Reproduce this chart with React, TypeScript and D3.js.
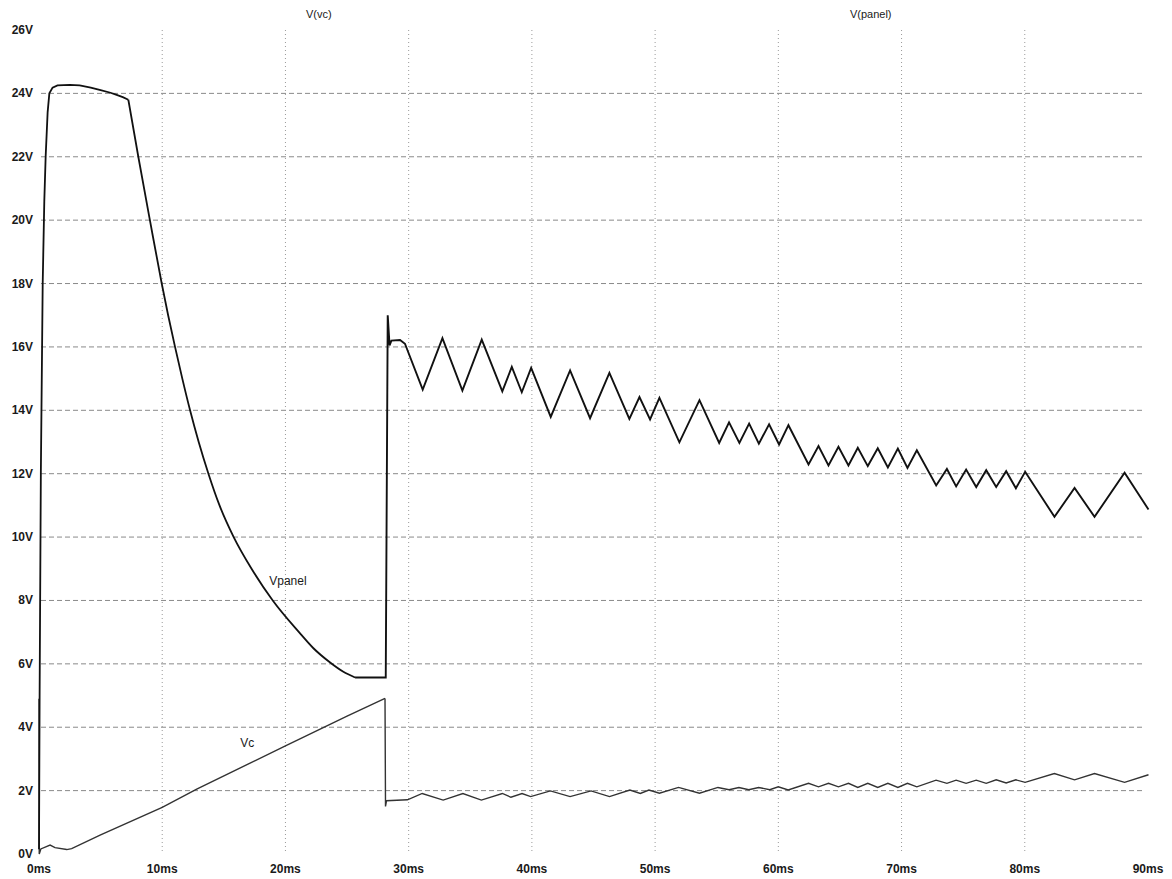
import React from "react";
import * as d3 from "d3";

const WIDTH = 1172;
const HEIGHT = 879;

// Y ticks (volts) and X ticks (ms)
const yTickValues = [0, 2, 4, 6, 8, 10, 12, 14, 16, 18, 20, 22, 24, 26];
const yGridValues = [2, 4, 6, 8, 10, 12, 14, 16, 18, 20, 22, 24];
const xTickValues = [0, 10, 20, 30, 40, 50, 60, 70, 80, 90];
const xGridValues = [10, 20, 30, 40, 50, 60, 70, 80];

// V(panel): start-up rise and plateau [ms, V]
const vpanelRise: [number, number][] = [
  [0, 0.15], [0.05, 5], [0.15, 12], [0.3, 18], [0.43, 20.6], [0.54, 22],
  [0.7, 23.4], [0.84, 24.0], [1.1, 24.18], [1.5, 24.25], [2.5, 24.27],
  [3.3, 24.25], [4.2, 24.18], [5, 24.1], [5.8, 24.02], [6.3, 23.95],
  [6.8, 23.88], [7.25, 23.8],
];
// V(panel): decay while capacitor charges
const vpanelDecay: [number, number][] = [
  [7.25, 23.8], [8.06, 22], [9.0, 20], [9.96, 18], [10.48, 17], [11.04, 16],
  [11.63, 15], [12.26, 14], [12.96, 13], [13.75, 12], [14.65, 11], [15.8, 10],
  [17.25, 9], [18.97, 8], [21.1, 7], [22.25, 6.5], [23.6, 6.05], [24.7, 5.75],
  [25.65, 5.57],
];
// V(panel): switching regime
const vpanelSwitch: [number, number][] = [
  [25.65, 5.57], [28.14, 5.57], [28.3, 17.0], [28.45, 16.05], [28.6, 16.2],
  [29.3, 16.22], [29.7, 16.1],
  [31.14, 14.65], [32.74, 16.28], [34.36, 14.62], [35.93, 16.23], [37.6, 14.6],
  [38.37, 15.37], [39.18, 14.57], [39.94, 15.34], [41.53, 13.79], [43.1, 15.26],
  [44.72, 13.75], [46.29, 15.18], [47.91, 13.73], [48.73, 14.42], [49.59, 13.71],
  [50.35, 14.39], [51.97, 12.99], [53.6, 14.32], [55.2, 12.97], [56.0, 13.62],
  [56.84, 12.97], [57.63, 13.58], [58.42, 12.95], [59.25, 13.56], [60.06, 12.92],
  [60.82, 13.53], [62.45, 12.29], [63.26, 12.87], [64.07, 12.26], [64.88, 12.85],
  [65.69, 12.26], [66.45, 12.82], [67.26, 12.24], [68.07, 12.8], [68.89, 12.2],
  [69.7, 12.79], [70.48, 12.18], [71.24, 12.74], [72.81, 11.63], [73.68, 12.15],
  [74.43, 11.6], [75.24, 12.13], [76.06, 11.58], [76.87, 12.11], [77.68, 11.58],
  [78.49, 12.08], [79.28, 11.54], [80.03, 12.06], [82.41, 10.64], [84.04, 11.55],
  [85.66, 10.64], [88.1, 12.03], [90.04, 10.87],
];

// V(vc): ramp
const vcRamp: [number, number][] = [
  [0, 4.9], [0.02, 0.0], [0.15, 0.16], [0.9, 0.28], [1.3, 0.2], [2.25, 0.14],
  [2.65, 0.17], [5, 0.6], [10, 1.47], [12.8, 2.05], [20, 3.41], [25, 4.35],
  [28.08, 4.91],
];
// V(vc): switching regime
const vcSwitch: [number, number][] = [
  [28.08, 4.91], [28.12, 1.5], [28.2, 1.68], [29.9, 1.71],
  [31.1, 1.91], [32.8, 1.70], [34.4, 1.91], [35.9, 1.70], [37.6, 1.91],
  [38.3, 1.79], [39.2, 1.91], [39.9, 1.81], [41.5, 1.99], [43.1, 1.81],
  [44.8, 1.99], [46.3, 1.81], [47.95, 2.02], [48.8, 1.91], [49.5, 2.02],
  [50.35, 1.92], [51.9, 2.10], [53.6, 1.92], [55.1, 2.10], [56.0, 2.03],
  [56.8, 2.10], [57.6, 2.03], [58.4, 2.10], [59.3, 2.03], [60.0, 2.12],
  [60.8, 2.02], [62.45, 2.23], [63.26, 2.12], [64.07, 2.23], [64.88, 2.12],
  [65.69, 2.23], [66.45, 2.10], [67.26, 2.23], [68.07, 2.10], [68.89, 2.23],
  [69.7, 2.10], [70.48, 2.23], [71.24, 2.12], [72.8, 2.33], [73.68, 2.23],
  [74.43, 2.33], [75.24, 2.23], [76.06, 2.33], [76.87, 2.23], [77.68, 2.34],
  [78.49, 2.24], [79.28, 2.34], [80.03, 2.26], [82.4, 2.54], [84.04, 2.34],
  [85.66, 2.54], [88.1, 2.26], [90.04, 2.50],
];

const titles = [
  { text: "V(vc)", t: 22.7 },
  { text: "V(panel)", t: 67.5 },
];
const curveLabels = [
  { text: "Vpanel", t: 20.2, v: 8.6 },
  { text: "Vc", t: 16.9, v: 3.5 },
];

export default function App() {
  const x = d3.scaleLinear().domain([0, 90]).range([39, 1148]);
  const y = d3.scaleLinear().domain([0, 26]).range([854, 30]);

  const linear = d3
    .line<[number, number]>()
    .x((d) => x(d[0]))
    .y((d) => y(d[1]))
    .curve(d3.curveLinear);
  const smooth = d3
    .line<[number, number]>()
    .x((d) => x(d[0]))
    .y((d) => y(d[1]))
    .curve(d3.curveMonotoneX);

  const font = "'Liberation Sans', Arial, Helvetica, sans-serif";

  return (
    <svg
      width={WIDTH}
      height={HEIGHT}
      style={{ position: "absolute", left: 0, top: 0, background: "#fff" }}
      fontFamily={font}
    >
      <rect x={0} y={0} width={WIDTH} height={HEIGHT} fill="#fff" />
      {/* horizontal dashed grid */}
      {yGridValues.map((v) => (
        <line
          key={"hy" + v}
          x1={x(0) + 2}
          x2={x(90) - 4}
          y1={y(v)}
          y2={y(v)}
          stroke="#8a8a8a"
          strokeWidth={1}
          strokeDasharray="5,3"
        />
      ))}
      {/* vertical dotted grid */}
      {xGridValues.map((t) => (
        <line
          key={"vx" + t}
          x1={x(t)}
          x2={x(t)}
          y1={y(26)}
          y2={y(0) - 2}
          stroke="#9a9a9a"
          strokeWidth={1}
          strokeDasharray="1,3"
        />
      ))}
      {/* y tick labels */}
      {yTickValues.map((v) => (
        <text
          key={"yl" + v}
          x={33}
          y={y(v)}
          textAnchor="end"
          dominantBaseline="central"
          fontSize={12}
          fontWeight={600}
          fill="#1a1a1a"
        >
          {v + "V"}
        </text>
      ))}
      {/* x tick labels */}
      {xTickValues.map((t) => (
        <text
          key={"xl" + t}
          x={x(t)}
          y={869}
          textAnchor="middle"
          dominantBaseline="central"
          fontSize={12}
          fontWeight={600}
          fill="#1a1a1a"
        >
          {t + "ms"}
        </text>
      ))}
      {/* titles */}
      {titles.map((d) => (
        <text
          key={d.text}
          x={x(d.t)}
          y={14}
          textAnchor="middle"
          dominantBaseline="central"
          fontSize={11}
          fill="#1a1a1a"
        >
          {d.text}
        </text>
      ))}
      {/* V(vc) */}
      <path d={linear(vcRamp) || ""} fill="none" stroke="#333" strokeWidth={1.4} />
      <path d={linear(vcSwitch) || ""} fill="none" stroke="#333" strokeWidth={1.4} />
      {/* V(panel) */}
      <path d={linear(vpanelRise) || ""} fill="none" stroke="#111" strokeWidth={1.8} />
      <path d={smooth(vpanelDecay) || ""} fill="none" stroke="#111" strokeWidth={1.8} />
      <path
        d={linear(vpanelSwitch) || ""}
        fill="none"
        stroke="#111"
        strokeWidth={1.9}
        strokeLinejoin="miter"
      />
      {/* curve labels */}
      {curveLabels.map((d) => (
        <text
          key={d.text}
          x={x(d.t)}
          y={y(d.v)}
          textAnchor="middle"
          dominantBaseline="central"
          fontSize={12}
          fill="#1a1a1a"
        >
          {d.text}
        </text>
      ))}
    </svg>
  );
}
